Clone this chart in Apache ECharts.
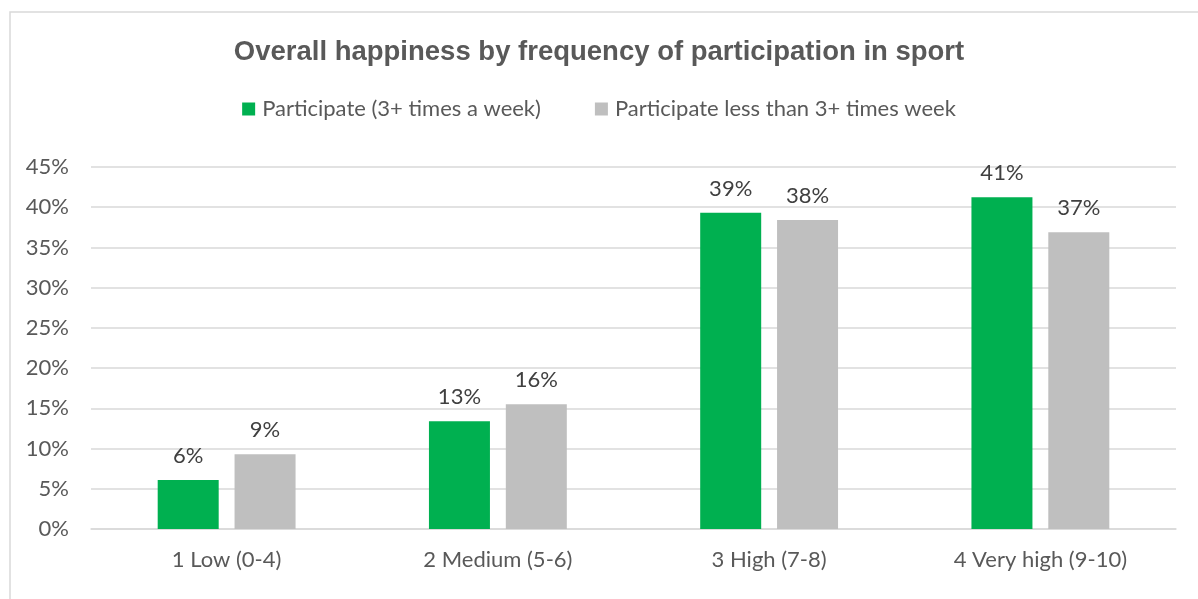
<!DOCTYPE html>
<html>
<head>
<meta charset="utf-8">
<script src="https://cdn.jsdelivr.net/npm/echarts@6/dist/echarts.min.js"></script>
<style>
  html, body { margin: 0; padding: 0; background: #fff; }
  #chart { width: 1198px; height: 599px; }
</style>
</head>
<body>
<div id="chart"></div>
<script>
const categories = ['1 Low (0-4)', '2 Medium (5-6)', '3 High (7-8)', '4 Very high (9-10)'];
const participate3Plus = [6.1, 13.4, 39.3, 41.25];
const participateLess = [9.3, 15.5, 38.4, 36.9];
const seriesNames = ['Participate (3+ times a week)', 'Participate less than 3+ times week'];

const chart = echarts.init(document.getElementById('chart'));

const labelStyle = {
  show: true,
  position: 'top',
  distance: 13,
  color: '#404040',
  fontSize: 22,
  fontFamily: 'Lato',
  formatter: (p) => Math.round(p.value) + '%'
};

const option = {
  animation: false,
  graphic: [{
    type: 'rect',
    shape: { x: 10, y: 12, width: 1200, height: 600 },
    style: { fill: 'none', stroke: '#d9d9d9', lineWidth: 1.5 },
    silent: true
  }],
  title: {
    text: 'Overall happiness by frequency of participation in sport',
    left: 'center',
    top: 33,
    textStyle: { fontFamily: 'Liberation Sans', fontWeight: 'bold', fontSize: 27.5, color: '#595959' }
  },
  legend: {
    top: 93,
    left: 'center',
    itemGap: 54,
    itemWidth: 13,
    itemHeight: 13,
    icon: 'rect',
    textStyle: { fontFamily: 'Lato', fontSize: 22, color: '#595959', padding: [0, 0, 0, 2] },
    data: seriesNames
  },
  grid: { left: 91, right: 22, top: 167, bottom: 70 },
  xAxis: {
    type: 'category',
    data: categories,
    axisLine: { lineStyle: { color: '#d9d9d9', width: 1.5 } },
    axisTick: { show: false },
    axisLabel: { fontFamily: 'Lato', fontSize: 22, color: '#595959', margin: 20 }
  },
  yAxis: {
    type: 'value',
    min: 0,
    max: 45,
    interval: 5,
    axisLine: { show: false },
    axisTick: { show: false },
    splitLine: { lineStyle: { color: '#d9d9d9', width: 1.5 } },
    axisLabel: { fontFamily: 'Lato', fontSize: 22, color: '#595959', margin: 22, formatter: '{value}%' }
  },
  series: [
    {
      name: seriesNames[0],
      type: 'bar',
      data: participate3Plus,
      barWidth: 61,
      barGap: '26%',
      itemStyle: { color: '#00b050' },
      label: labelStyle
    },
    {
      name: seriesNames[1],
      type: 'bar',
      data: participateLess,
      barWidth: 61,
      itemStyle: { color: '#bfbfbf' },
      label: labelStyle
    }
  ]
};
chart.setOption(option);
</script>
</body>
</html>
